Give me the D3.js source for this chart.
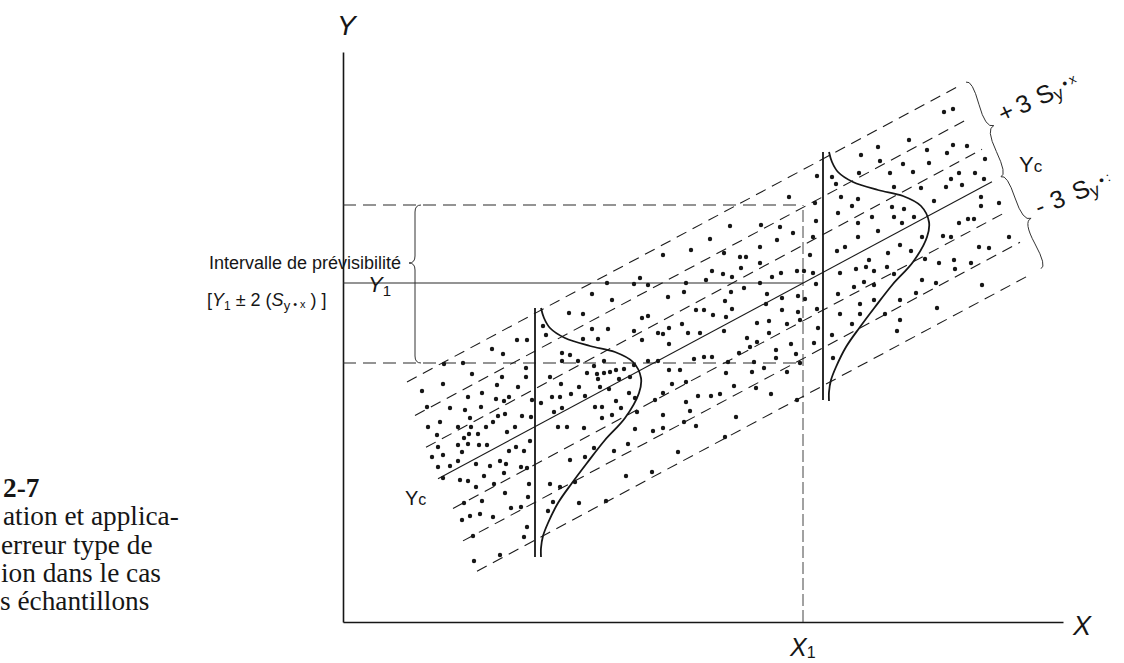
<!DOCTYPE html>
<html>
<head>
<meta charset="utf-8">
<script src="https://cdn.jsdelivr.net/npm/d3@7"></script>
<style>
  body { margin: 0; background: #fff; }
  svg { display: block; }
</style>
</head>
<body>
<svg></svg>
<script>
// regression line and standard error (units)
const regIntercept = 92.4;
const regSlope = 0.536;
const syx = 37.8;

// the seven lines of the band: -3 Sy.x ... +3 Sy.x
const bandK = [-3, -2, -1, 0, 1, 2, 3];
const bandStartX = [134, 120, 110, 95, 83, 72, 64];
const bandEndX = [689, 677, 665, 649, 639, 627, 614];

// X1, and the Y values of the prediction interval (Y1 - 2S, Y1, Y1 + 2S)
const x1Value = 460;
const intervalY = [259, 339, 417];

// the two distributions drawn on the band
const curveAt = [
    { x: 192, top: 314, bottom: 65 },
    { x: 480, top: 470, bottom: 222 }
];
// [distance down from top, width] of the bell curve
const curveProfile = [[0, 6], [10, 9], [20, 15], [30, 30], [38, 55], [44, 80], [54, 98], [70, 106],
    [85, 104], [110, 90], [132, 70], [155, 52], [175, 37], [195, 23], [215, 13], [228, 8], [240, 6], [249, 6]];

// observed points [X, Y]
const scatter = [
    [320,367],[264,339],[297,344],[291,338],[305,337],[249,328],[269,322],[226,309],[240,308],[299,304],
    [305,306],[200,296],[203,287],[249,293],[265,293],[291,291],[315,289],[320,288],[174,282],[184,282],
    [240,283],[255,283],[299,282],[149,273],[160,268],[219,269],[227,267],[235,261],[219,261],[120,259],
    [101,258],[261,261],[291,257],[305,261],[315,261],[129,248],[183,254],[183,245],[244,249],[251,256],
    [254,248],[261,249],[267,250],[273,252],[281,253],[255,243],[276,243],[287,245],[207,245],[159,245],
    [100,238],[79,231],[154,237],[175,235],[257,235],[218,238],[236,235],[266,233],[286,229],[139,229],
    [125,225],[153,223],[161,221],[166,225],[209,225],[217,225],[228,228],[242,226],[189,222],[198,219],
    [273,221],[292,224],[312,222],[320,229],[84,215],[107,214],[122,212],[138,215],[219,214],[211,210],
    [252,215],[259,215],[278,214],[294,210],[97,200],[127,204],[150,200],[155,206],[162,208],[179,206],
    [188,205],[259,204],[269,207],[320,207],
    [85,195],[115,195],[128,195],[143,195],[172,195],[164,190],[215,195],[224,195],[241,194],[292,193],
    [310,191],[320,194],[94,187],[121,184],[126,188],[135,188],[95,175],[115,177],[125,178],[136,177],
    [144,177],[187,181],[119,170],[89,165],[100,167],[166,171],[173,175],[181,171],[115,161],[107,156],
    [95,155],[133,158],[147,156],[157,161],[163,158],[161,149],[178,155],[184,154],[227,162],[242,165],
    [251,174],[271,171],[285,178],[100,144],[117,142],[125,141],[141,146],[133,135],[151,138],[186,138],
    [207,138],[217,135],[232,140],[283,146],[309,150],[162,129],[121,119],[139,121],[168,114],[178,115],
    [185,125],[210,120],[205,111],[236,119],[263,121],[119,102],[127,106],[137,108],[150,105],[184,95],
    [181,85],[130,86],[157,67],[131,61],
    [566,482],[535,475],[518,467],[537,461],[560,458],[570,450],[516,449],[547,449],[474,446],[489,445],
    [493,438],[551,435],[578,434],[446,425],[498,425],[515,423],[509,416],[472,419],[495,409],[529,405],
    [549,415],[561,413],[551,405],[571,405],[559,399],[515,399],[535,391],[515,385],[579,385],[387,396],
    [418,397],[437,395],[450,389],[367,383],[434,382],[417,375],[381,369],[348,372],[397,365],[403,365],
    [417,359],[473,401],[470,385],[467,367],[494,371],[502,375],[545,369],[557,377],[568,371],[526,362],
    [523,355],[513,353],[531,351],[544,355],[497,349],[551,348],[579,342],[369,351],[380,348],[389,345],
    [398,354],[429,345],[438,349],[454,351],[461,351],[470,349],[343,339],[363,342],[417,339],[401,334],
    [473,338],[521,340],[511,335],[531,337],
    [325,325],[341,330],[388,330],[424,328],[439,324],[455,326],[462,323],[495,328],[573,329],[353,312],
    [361,312],[370,307],[382,321],[389,313],[383,305],[423,318],[439,312],[455,310],[457,302],[474,313],
    [497,308],[517,318],[517,308],[531,322],[542,308],[557,322],[557,302],[326,294],[339,298],[345,289],
    [357,289],[381,291],[414,299],[426,301],[444,298],[426,289],[475,294],[489,287],[509,298],[554,291],
    [326,278],[404,284],[414,280],[407,275],[396,269],[433,272],[433,264],[448,278],[453,268],[471,279],
    [490,264],[351,263],[361,265],[369,265],[385,260],[411,260],[457,259],[326,252],[337,252],[383,249],
    [409,250],[421,254],[444,250],[329,238],[343,240],[391,236],[413,234],[428,228],[355,226],[368,226],
    [377,228],[343,220],[347,211],[341,200],[353,196],[393,205],[382,185],[335,170],[454,222],
    [601,510],[610,513],[584,472],[604,469],[610,477],[624,476],[586,459],[642,463],[603,435],[608,443],
    [616,449],[619,437],[632,449],[641,443],[591,421],[638,425],[638,416],[656,419],[616,399],[625,403],
    [631,403],[600,386],[608,385],[666,385],[636,375],[646,374],[582,363],[596,359],[611,362],[612,353],
    [628,359],[593,339],[639,337],[594,314]
];

const captionLines = ["2-7", "ation et applica-", "erreur type de", "ion dans le cas", "s échantillons"];
const captionLeft = [3, 3, 1, 1, 0];

let width = 1124;
let height = 663;
let svg = d3.select('svg');
let xScale, yScale;

const ink = '#161616';
const sans = 'Liberation Sans, Arial, sans-serif';

const yc = (x, k) => regIntercept + regSlope * x + k * syx;

const drawCanvas = () => {
    svg.attr('width', width).attr('height', height);
};

const generateScales = () => {
    xScale = d3.scaleLinear().domain([0, 720]).range([343, 1063]);
    yScale = d3.scaleLinear().domain([0, 570]).range([622, 52]);
};

const drawAxes = () => {
    const xAxis = d3.axisBottom(xScale).tickValues([]).tickSizeOuter(0);
    const yAxis = d3.axisLeft(yScale).tickValues([]).tickSizeOuter(0);
    svg.append('g').attr('transform', 'translate(0,' + yScale(0) + ')').call(xAxis)
       .select('.domain').attr('stroke', ink).attr('stroke-width', 1.6);
    svg.append('g').attr('transform', 'translate(' + xScale(0) + ',0)').call(yAxis)
       .select('.domain').attr('stroke', ink).attr('stroke-width', 1.6);
};

const drawGuides = () => {
    // horizontal lines of the prediction interval at X1
    svg.selectAll('line.guide')
       .data(intervalY)
       .enter()
       .append('line')
       .attr('class', 'guide')
       .attr('x1', xScale(0))
       .attr('x2', xScale(x1Value))
       .attr('y1', d => yScale(d))
       .attr('y2', d => yScale(d))
       .attr('stroke', '#2a2a2a')
       .attr('stroke-width', 1.1)
       .attr('stroke-dasharray', (d, i) => i === 1 ? null : '13,7');

    svg.append('line')
       .attr('x1', xScale(x1Value)).attr('x2', xScale(x1Value))
       .attr('y1', yScale(0)).attr('y2', yScale(intervalY[2]))
       .attr('stroke', '#444')
       .attr('stroke-width', 1)
       .attr('stroke-dasharray', '12,4');
};

const drawBand = () => {
    svg.selectAll('line.band')
       .data(bandK)
       .enter()
       .append('line')
       .attr('class', 'band')
       .attr('x1', (k, i) => xScale(bandStartX[i]))
       .attr('y1', (k, i) => yScale(yc(bandStartX[i], k)))
       .attr('x2', (k, i) => xScale(bandEndX[i]))
       .attr('y2', (k, i) => yScale(yc(bandEndX[i], k)))
       .attr('stroke', '#1a1a1a')
       .attr('stroke-width', 1.1)
       .attr('stroke-dasharray', k => k === 0 ? null : '11,7');
};

const drawCurves = () => {
    const line = d3.line()
                   .x(d => xScale(d[0]))
                   .y(d => yScale(d[1]))
                   .curve(d3.curveCatmullRom);
    curveAt.forEach(c => {
        svg.append('line')
           .attr('x1', xScale(c.x)).attr('x2', xScale(c.x))
           .attr('y1', yScale(c.top)).attr('y2', yScale(c.bottom))
           .attr('stroke', ink)
           .attr('stroke-width', 1.8);
        const pts = curveProfile.map(p => [c.x + p[1], c.top - p[0]]);
        svg.append('path')
           .attr('d', line(pts))
           .attr('fill', 'none')
           .attr('stroke', ink)
           .attr('stroke-width', 1.8);
    });
};

const drawPoints = () => {
    svg.selectAll('circle')
       .data(scatter)
       .enter()
       .append('circle')
       .attr('cx', d => xScale(d[0]))
       .attr('cy', d => yScale(d[1]))
       .attr('r', 2.2)
       .attr('fill', ink);
};

// curly brace between two points, bulging to the left of the direction p1 -> p2
const bracePath = (x1, y1, x2, y2, w, q) => {
    let dx = x1 - x2, dy = y1 - y2;
    const len = Math.sqrt(dx * dx + dy * dy);
    dx /= len; dy /= len;
    const qx1 = x1 + q * w * dy, qy1 = y1 - q * w * dx;
    const qx2 = (x1 - .25 * len * dx) + (1 - q) * w * dy, qy2 = (y1 - .25 * len * dy) - (1 - q) * w * dx;
    const tx1 = (x1 - .5 * len * dx) + w * dy, ty1 = (y1 - .5 * len * dy) - w * dx;
    const qx3 = x2 + q * w * dy, qy3 = y2 - q * w * dx;
    const qx4 = (x1 - .75 * len * dx) + (1 - q) * w * dy, qy4 = (y1 - .75 * len * dy) - (1 - q) * w * dx;
    return 'M' + x1 + ' ' + y1 + ' Q' + qx1 + ' ' + qy1 + ' ' + qx2 + ' ' + qy2 + ' T' + tx1 + ' ' + ty1 +
           ' M' + x2 + ' ' + y2 + ' Q' + qx3 + ' ' + qy3 + ' ' + qx4 + ' ' + qy4 + ' T' + tx1 + ' ' + ty1;
};

// vertical brace opening to the right, with its tip at ym
const leftBrace = (x, y0, ym, y1, w) => {
    const h = w / 2, r = 7;
    return 'M' + x + ',' + y0 +
           ' Q' + (x - h) + ',' + y0 + ' ' + (x - h) + ',' + (y0 + r) +
           ' L' + (x - h) + ',' + (ym - r) +
           ' Q' + (x - h) + ',' + ym + ' ' + (x - w) + ',' + ym +
           ' Q' + (x - h) + ',' + ym + ' ' + (x - h) + ',' + (ym + r) +
           ' L' + (x - h) + ',' + (y1 - r) +
           ' Q' + (x - h) + ',' + y1 + ' ' + x + ',' + y1;
};

const drawBraces = () => {
    // left brace over the prediction interval
    svg.append('path')
       .attr('d', leftBrace(421, yScale(intervalY[2]), 263, yScale(intervalY[0]), 12))
       .attr('fill', 'none').attr('stroke', '#333').attr('stroke-width', 1);

    // right braces: +3 S to Yc, Yc to -3 S
    const ends = [6, 3, 0].map(i => [xScale(bandEndX[i]) + 9, yScale(yc(bandEndX[i], bandK[i])) - 5]);
    for (let j = 0; j < 2; j++) {
        svg.append('path')
           .attr('d', bracePath(ends[j + 1][0], ends[j + 1][1], ends[j][0], ends[j][1], 11, 0.6))
           .attr('fill', 'none').attr('stroke', '#333').attr('stroke-width', 1);
    }
};

const addText = (g, parts, x, y, anchor) => {
    const t = g.append('text')
               .attr('x', x).attr('y', y)
               .attr('font-family', sans)
               .attr('fill', ink)
               .attr('text-anchor', anchor || 'start');
    parts.forEach(p => {
        t.append('tspan')
         .attr('font-size', p.size)
         .attr('font-style', p.italic ? 'italic' : 'normal')
         .attr('dx', p.dx || 0)
         .attr('dy', p.dy || 0)
         .text(p.text);
    });
    return t;
};

const drawLabels = () => {
    addText(svg, [{ text: 'Y', size: 28, italic: true }], 337, 35);
    addText(svg, [{ text: 'X', size: 27, italic: true }], 1073, 635);
    addText(svg, [{ text: 'X', size: 25, italic: true }, { text: '1', size: 16, dy: 2 }], 790, 656);
    addText(svg, [{ text: 'Y', size: 22, italic: true }, { text: '1', size: 15, dy: 4 }], 368, 292);
    addText(svg, [{ text: 'Y', size: 20 }, { text: 'c', size: 16 }], 405, 505);
    addText(svg, [{ text: 'Y', size: 22 }, { text: 'c', size: 17 }], 1019, 172);

    addText(svg, [{ text: 'Intervalle de prévisibilité', size: 18 }], 401, 269, 'end');
    addText(svg, [
        { text: '[', size: 18 },
        { text: 'Y', size: 18, italic: true },
        { text: '1', size: 12, dy: 4 },
        { text: ' ± 2 (', size: 18, dy: -4 },
        { text: 'S', size: 18, italic: true },
        { text: 'y', size: 13, dy: 4 },
        { text: ' • ', size: 11, dy: -2 },
        { text: 'x', size: 11, dy: 0 },
        { text: ' ) ]', size: 18, dy: -2 }
    ], 207, 306);

    const plus = svg.append('g').attr('transform', 'translate(1003,123) rotate(-25)');
    addText(plus, [
        { text: '+', size: 25 },
        { text: '3', size: 25, dx: 5 },
        { text: 'S', size: 25, dx: 8 },
        { text: 'y', size: 18, dy: 3 },
        { text: '•', size: 14, dx: 3, dy: -8 },
        { text: 'x', size: 13, dx: 3, dy: -1 }
    ], 0, 0);

    const minus = svg.append('g').attr('transform', 'translate(1039,216) rotate(-22)');
    addText(minus, [
        { text: '-', size: 25 },
        { text: '3', size: 25, dx: 8 },
        { text: 'S', size: 25, dx: 10 },
        { text: 'y', size: 18, dy: 3 },
        { text: '•', size: 14, dx: 3, dy: -8 },
        { text: ':', size: 13, dx: 3, dy: -1 }
    ], 0, 0);
};

const drawCaption = () => {
    svg.selectAll('text.caption')
       .data(captionLines)
       .enter()
       .append('text')
       .attr('class', 'caption')
       .attr('x', (d, i) => captionLeft[i])
       .attr('y', (d, i) => 497 + i * 28.3)
       .attr('font-family', 'Liberation Serif, Times New Roman, serif')
       .attr('font-size', 27.3)
       .attr('font-weight', (d, i) => i === 0 ? 'bold' : 'normal')
       .attr('fill', ink)
       .text(d => d);
};

drawCanvas();
generateScales();
drawAxes();
drawGuides();
drawBand();
drawCurves();
drawPoints();
drawBraces();
drawLabels();
drawCaption();
</script>
</body>
</html>
